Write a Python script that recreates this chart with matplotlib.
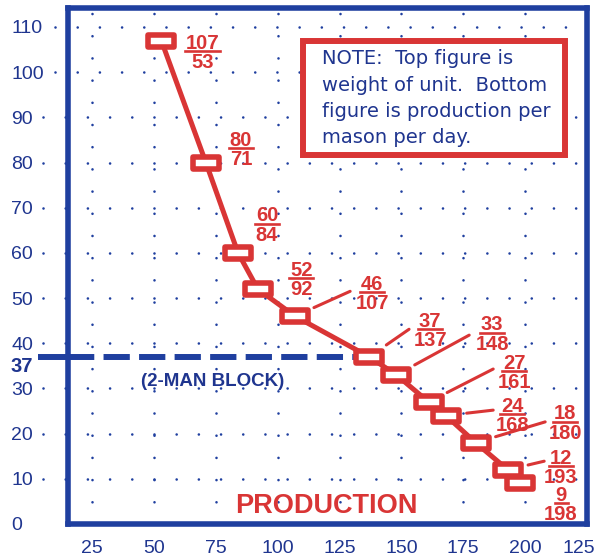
import matplotlib
matplotlib.use('Agg')
import matplotlib.pyplot as plt
from matplotlib.markers import MarkerStyle
from matplotlib.patches import Rectangle
from matplotlib.path import Path
from matplotlib.lines import Line2D
from matplotlib.transforms import Affine2D, ScaledTranslation

plt.rcParams['font.family'] = ['Liberation Sans', 'DejaVu Sans']

# top figure = weight of unit, bottom figure = production per mason per day
weight = [107, 80, 60, 52, 46, 37, 33, 27, 24, 18, 12, 9]
production = [53, 71, 84, 92, 107, 137, 148, 161, 168, 180, 193, 198]

x_ticks = [25, 50, 75, 100, 125, 150, 175, 200, 225]
x_tick_labels = ['25', '50', '75', '100', '125', '150', '175', '200', '125']
y_ticks = [0, 10, 20, 30, 40, 50, 60, 70, 80, 90, 100, 110]
two_man_weight = 37

note_lines = ['NOTE:  Top figure is', 'weight of unit.  Bottom',
              'figure is production per', 'mason per day.']

# where each fraction label sits (underline centre, data units)
label_x = [69.5, 85.2, 95.7, 109.5, 138.2, 161.6, 186.7, 195.6, 194.8, 216.2, 214.5, 214.5]
label_y = [104.6, 83.2, 66.4, 54.4, 51.3, 43.1, 42.3, 33.8, 24.3, 22.6, 12.8, 4.6]
# leader line ends (data units), None = no leader
leader_x = [None, None, None, None, 129.3, 153.1, 177.4, 187.1, 187.1, 208.1, 207.7, None]
leader_y = [None, None, None, None, 51.5, 43.1, 41.8, 34.3, 25.2, 22.6, 13.9, None]

red = '#d93535'
blue = '#1f3f9f'
navy = '#1f358f'

fig = plt.figure(figsize=(5.97, 5.56), dpi=100)
ax = fig.add_axes([68/597, 32/556, 519/597, 516/556])
px = 72 / fig.dpi   # points per pixel

ax.set_xlim(15.3, 225.0)
ax.set_ylim(0, 114.2)

for s in ax.spines.values():
    s.set_linewidth(4)
    s.set_color(blue)
    s.set_zorder(6)

ax.set_xticks(x_ticks)
ax.set_xticklabels(x_tick_labels)
ax.set_yticks(y_ticks)
ax.tick_params(axis='both', length=0, labelsize=14, labelcolor=navy)
ax.tick_params(axis='x', pad=11.5)
ax.tick_params(axis='y', pad=41)
for lab in ax.get_yticklabels():
    lab.set_horizontalalignment('left')
last = ax.get_xticklabels()[-1]
last.set_transform(last.get_transform() + Affine2D().translate(-8, 0))

# dotted grid
dots = dict(color=blue, lw=1.9, linestyle=(0, (0.01, 8.4)), dash_capstyle='round', zorder=1)
for xt in x_ticks[:-1]:
    ax.plot([xt, xt], [0, 114.2], **dots)
for yt in y_ticks[1:]:
    start = -0.025 if yt >= 100 else -0.048
    ax.plot([start, 1], [yt, yt], transform=ax.get_yaxis_transform(), clip_on=False, **dots)

# 2-man block line
k = weight.index(two_man_weight)
ax.plot([15.3, production[k]], [two_man_weight, two_man_weight], color=blue, lw=4.3,
        linestyle=(0, (4.4, 1.55)), dash_capstyle='butt', zorder=2)
ax.plot([-0.058, 0], [two_man_weight, two_man_weight], transform=ax.get_yaxis_transform(),
        color=blue, lw=4.3, solid_capstyle='butt', clip_on=False, zorder=2)
ax.annotate(str(two_man_weight), xy=(0, two_man_weight), xycoords=ax.get_yaxis_transform(),
            xytext=(-58*px, -10*px), textcoords='offset points', ha='left', va='center',
            fontsize=14.5, fontweight='bold', color=navy, annotation_clip=False)
ax.text(73.6, 31.6, '(2-MAN BLOCK)', ha='center', va='center', fontsize=13.5,
        fontweight='bold', color=navy)

# curve with rectangular boxes
box = MarkerStyle(Path([(-1, -0.44), (1, -0.44), (1, 0.44), (-1, 0.44), (-1, -0.44)], closed=True),
                  joinstyle='miter')
ax.plot(production, weight, color=red, lw=3.6, marker=box, ms=18.7, mfc='white',
        mec=red, mew=4, zorder=4)

# fraction labels: weight over production
for x, y, lx, ly, ex, ey in zip(production, weight, label_x, label_y, leader_x, leader_y):
    ax.annotate(str(y), (lx, ly), xytext=(0, 2.5*px), textcoords='offset points',
                ha='center', va='baseline', fontsize=14.5, fontweight='bold', color=red, zorder=5)
    ax.annotate(str(x), (lx, ly), xytext=(0, -17*px), textcoords='offset points',
                ha='center', va='baseline', fontsize=14.5, fontweight='bold', color=red, zorder=5)
    w = 11 * len(str(y)) + 2
    tr = Affine2D() + ScaledTranslation(lx, ly, ax.transData)
    ax.add_artist(Line2D([-w/2, w/2], [0, 0], transform=tr, color=red, lw=1.9, zorder=5))
    if ex is not None:
        ax.annotate('', xy=(x, y), xytext=(ex, ey),
                    arrowprops=dict(arrowstyle='-', color=red, lw=2.2, shrinkA=0, shrinkB=15))

ax.text(119.6, 4.0, 'PRODUCTION', ha='center', va='center', fontsize=19.5,
        fontweight='bold', color=red)

# note box
ax.add_patch(Rectangle((0.4528, 0.715), 0.5048, 0.221, transform=ax.transAxes,
                       facecolor='white', edgecolor=red, lw=4.3, zorder=5))
for line, yb in zip(note_lines, [0.8915, 0.8391, 0.7887, 0.7384]):
    ax.text(0.489, yb, line, transform=ax.transAxes, ha='left', va='baseline',
            fontsize=14, family='DejaVu Sans', color=navy, zorder=6)

fig.savefig('out.png', dpi=100, facecolor='white')
